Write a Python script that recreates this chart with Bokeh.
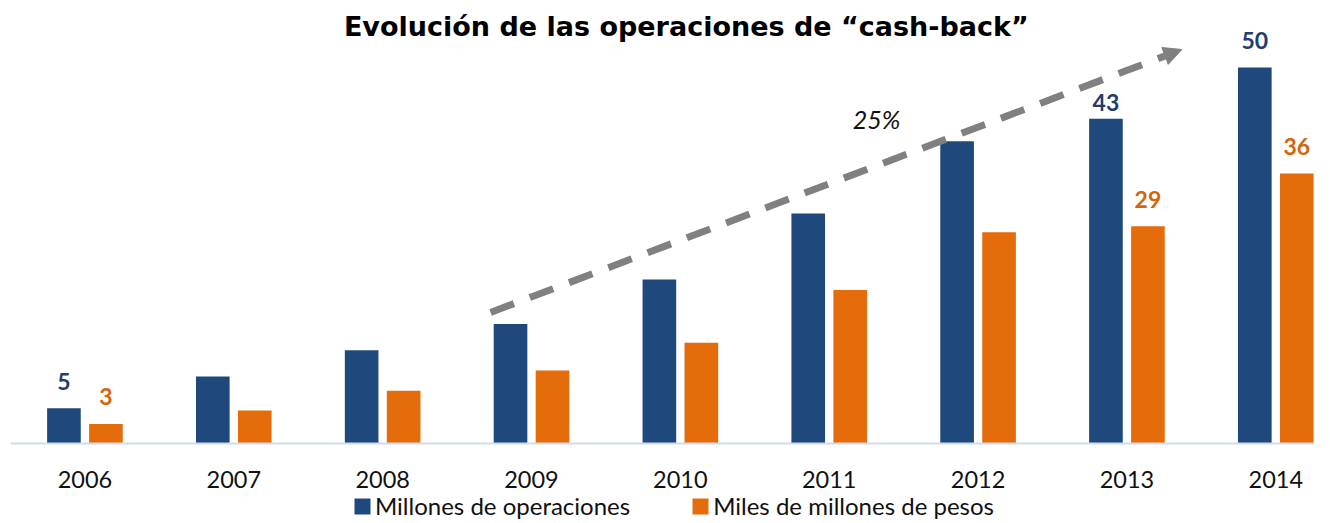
from bokeh.plotting import figure
from bokeh.models import (ColumnDataSource, FixedTicker, Legend, LegendItem, Label,
                          LabelSet, Arrow, NormalHead, Range1d)
from bokeh.core.properties import value
from bokeh.embed import file_html
from bokeh.resources import INLINE

# ---- data ----
years = ["2006", "2007", "2008", "2009", "2010", "2011", "2012", "2013", "2014"]
operaciones = [4.7, 8.9, 12.4, 15.9, 21.8, 30.6, 40.2, 43.2, 50.0]   # Millones de operaciones
pesos = [2.6, 4.4, 7.0, 9.7, 13.4, 20.4, 28.1, 28.9, 35.9]          # Miles de millones de pesos
labeled_years = ["2006", "2013", "2014"]
series_names = ["Millones de operaciones", "Miles de millones de pesos"]
title_text = "Evolución de las operaciones de “cash-back”"
growth_text = "25%"

BLUE = "#1f497d"
ORANGE = "#e46c0a"
BLUE_TXT = "#1f3d6e"
ORANGE_TXT = "#d4650d"
FONT = "Lato"

idx = list(range(len(years)))
off = 0.141
bw = 0.226

src_b = ColumnDataSource(dict(x=[i - off for i in idx], top=operaciones))
src_o = ColumnDataSource(dict(x=[i + off for i in idx], top=pesos))

p = figure(width=1314, height=522, output_backend="svg", toolbar_location=None,
           x_range=Range1d(-0.5, 8.26), y_range=Range1d(-10.505, 58.91),
           y_axis_location=None, min_border_left=10, min_border_right=0,
           min_border_top=0, min_border_bottom=0)
p.outline_line_color = None
p.grid.visible = False
p.background_fill_color = "white"
p.border_fill_color = "white"

rb = p.vbar(x="x", top="top", width=bw, source=src_b, fill_color=BLUE, line_color=None)
ro = p.vbar(x="x", top="top", width=bw, source=src_o, fill_color=ORANGE, line_color=None)

# x axis, drawn at the zero line
ax = p.xaxis[0]
ax.fixed_location = 0
ax.ticker = FixedTicker(ticks=idx)
ax.major_label_overrides = {i: y for i, y in zip(idx, years)}
ax.axis_line_color = "#d0dcee"
ax.axis_line_width = 2
ax.major_tick_line_color = None
ax.minor_tick_line_color = None
ax.major_label_text_font = FONT
ax.major_label_text_font_size = "23.5px"
ax.major_label_text_color = "#111111"
ax.major_label_standoff = 21

# data labels
lab_i = [years.index(y) for y in labeled_years]
src_lb = ColumnDataSource(dict(
    x=[i - off for i in lab_i], y=[operaciones[i] for i in lab_i],
    t=[f"{operaciones[i]:.0f}" for i in lab_i],
    dy=[16 if i == 7 else 27 for i in lab_i]))
src_lo = ColumnDataSource(dict(
    x=[i + off for i in lab_i], y=[pesos[i] for i in lab_i],
    t=[f"{pesos[i]:.0f}" for i in lab_i],
    dy=[27 for i in lab_i]))
for s, c in ((src_lb, BLUE_TXT), (src_lo, ORANGE_TXT)):
    p.add_layout(LabelSet(x="x", y="y", text="t", source=s, y_offset="dy",
                          text_align="center", text_baseline="middle",
                          text_font=value(FONT), text_font_style="bold",
                          text_font_size="23px", text_color=c))

# trend arrow
p.add_layout(Arrow(end=NormalHead(size=18, fill_color="#808080", line_color="#808080", line_width=1),
                   x_start=2.725, y_start=17.42, x_end=7.369, y_end=52.39,
                   line_color="#808080", line_width=7, line_dash="25 17"))
p.add_layout(Label(x=5.318, y=43.09, text=growth_text, text_align="center",
                   text_baseline="middle", text_font=FONT, text_font_style="italic",
                   text_font_size="25px", text_color="#111111"))

# title
p.add_layout(Label(x=4.04, y=55.45, text=title_text, text_align="center",
                   text_baseline="middle", text_font="DejaVu Sans", text_font_style="bold",
                   text_font_size="27px", text_color="#000000"))

# legend
legend = Legend(items=[LegendItem(label=series_names[0], renderers=[rb]),
                       LegendItem(label=series_names[1], renderers=[ro])],
                orientation="horizontal", location=(342, 2),
                glyph_width=20, glyph_height=20, label_standoff=3, spacing=60,
                label_height=18,
                label_text_font=FONT, label_text_font_size="24px",
                label_text_color="#111111", padding=0, margin=0,
                border_line_color=None, background_fill_alpha=0)
p.add_layout(legend, "center")

open("out.html", "w").write(file_html(p, INLINE))
